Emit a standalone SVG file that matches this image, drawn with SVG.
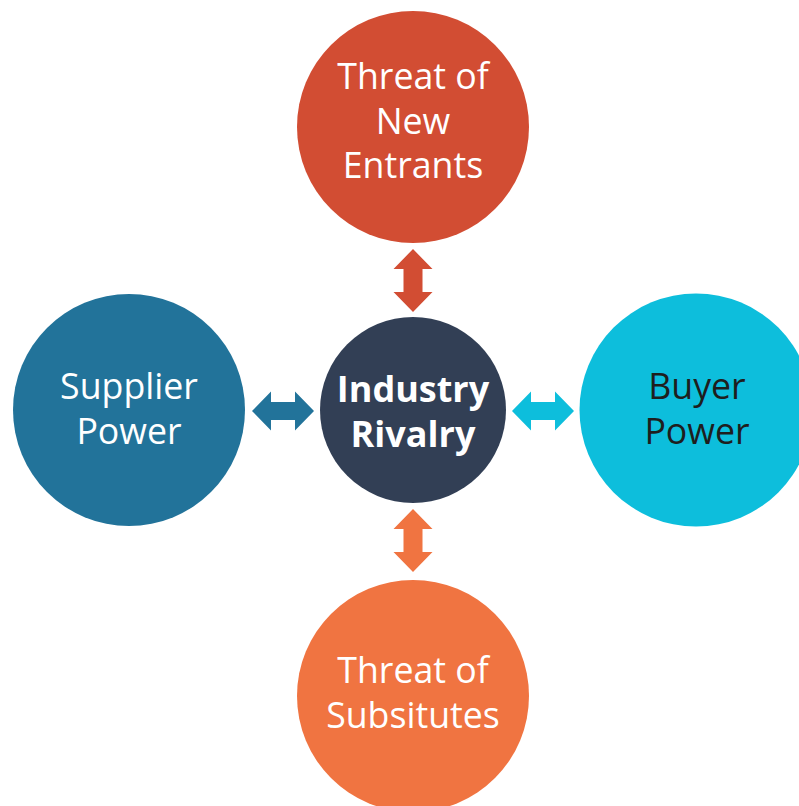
<svg xmlns="http://www.w3.org/2000/svg" width="799" height="806" viewBox="0 0 799 806">
<style>
.t{font-family:"Open Sans","Noto Sans",sans-serif;font-size:35.7px;text-anchor:middle;fill:#ffffff}
.d{fill:#1e1e1e}
.b{font-weight:bold;font-size:36px}
</style>
<defs>
<path id="va" d="M0,-31.5 L19.5,-11.5 L9.5,-11.5 L9.5,11.5 L19.5,11.5 L0,31.5 L-19.5,11.5 L-9.5,11.5 L-9.5,-11.5 L-19.5,-11.5 Z"/>
<path id="ha" d="M-31,0 L-12,-19.5 L-12,-9 L12,-9 L12,-19.5 L31,0 L12,19.5 L12,9 L-12,9 L-12,19.5 Z"/>
</defs>
<rect width="799" height="806" fill="#ffffff"/>
<g id="connectors">
<use href="#va" x="413" y="280.5" fill="#D24D33"/>
<use href="#va" x="413" y="540.5" fill="#F07441"/>
<use href="#ha" x="283" y="411" fill="#22739A"/>
<use href="#ha" x="543" y="411" fill="#0DBEDC"/>
</g>
<g id="new-entrants">
<circle cx="413" cy="127" r="116" fill="#D24D33"/>
<text class="t" x="413" y="89">Threat of</text>
<text class="t" x="413" y="134">New</text>
<text class="t" x="413" y="178">Entrants</text>
</g>
<g id="supplier-power">
<circle cx="129" cy="410" r="116" fill="#22739A"/>
<text class="t" x="129" y="399">Supplier</text>
<text class="t" x="129" y="444">Power</text>
</g>
<g id="industry-rivalry">
<circle cx="413" cy="410" r="93" fill="#323F55"/>
<text class="t b" x="413" y="402">Industry</text>
<text class="t b" x="413" y="447">Rivalry</text>
</g>
<g id="buyer-power">
<circle cx="696" cy="410" r="116.5" fill="#0DBEDC"/>
<text class="t d" x="697" y="399">Buyer</text>
<text class="t d" x="697" y="444">Power</text>
</g>
<g id="substitutes">
<circle cx="413" cy="696" r="116" fill="#F07441"/>
<text class="t" x="413" y="683">Threat of</text>
<text class="t" x="413" y="728">Subsitutes</text>
</g>
</svg>
